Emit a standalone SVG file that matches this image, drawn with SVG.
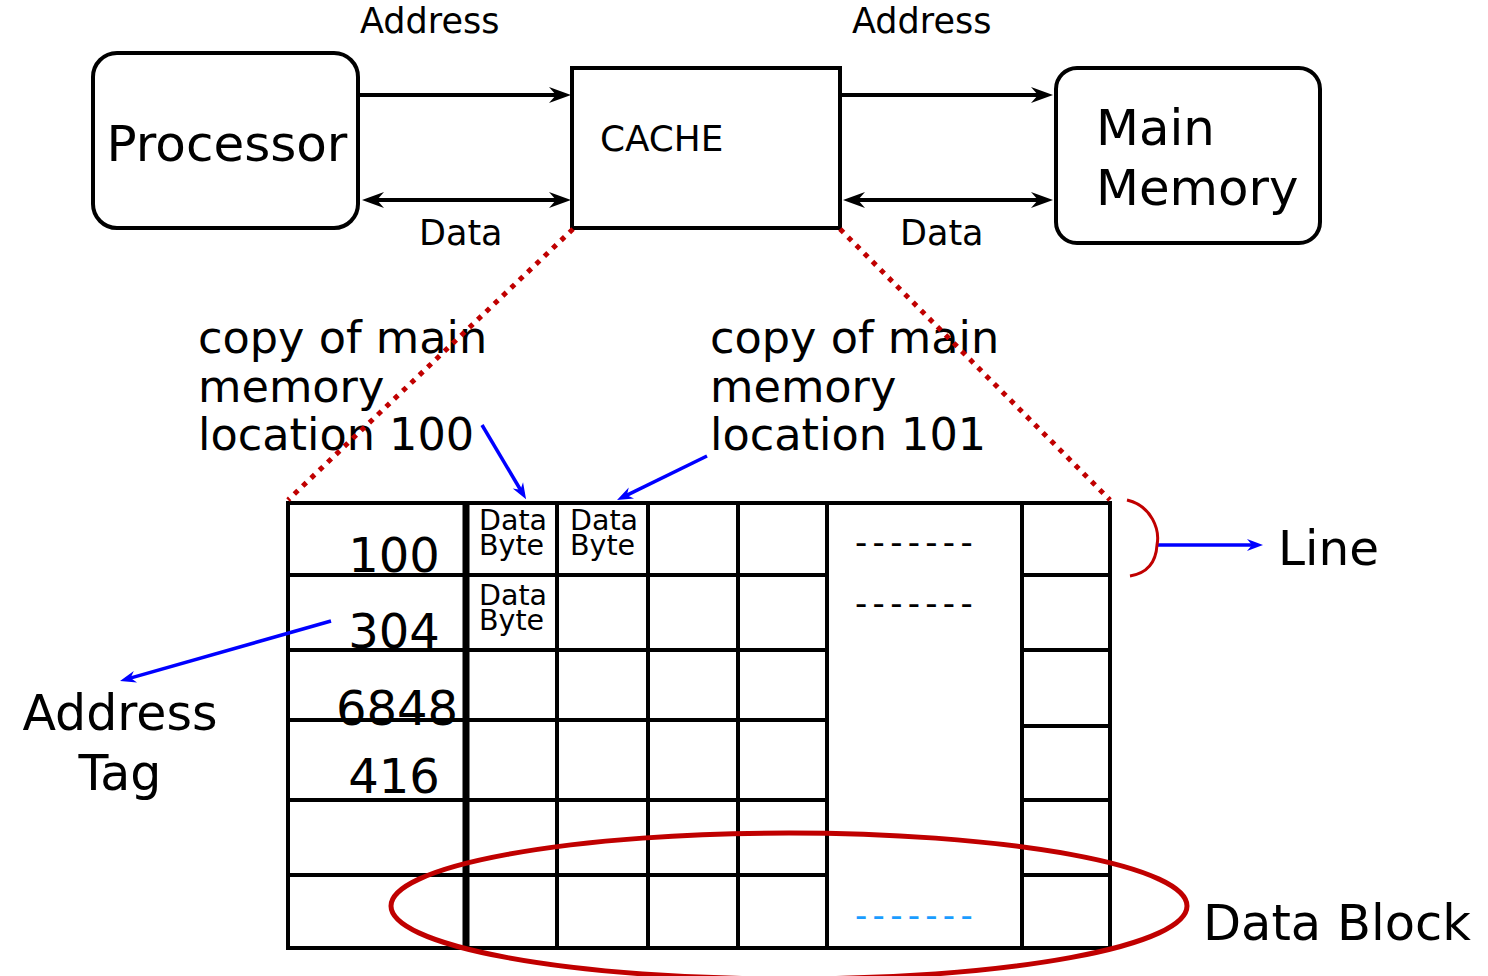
<svg xmlns="http://www.w3.org/2000/svg" width="1488" height="976" viewBox="0 0 1488 976">
<style>
text{font-family:"DejaVu Sans","Verdana","Liberation Sans",sans-serif;fill:#000}
.box{fill:#fff;stroke:#000;stroke-width:4}
.arr{stroke:#000;stroke-width:4;fill:none}
.barr{stroke:#0000ff;stroke-width:3.5;fill:none}
.grid{stroke:#000;stroke-width:4;fill:none}
.red{stroke:#c00000;fill:none}
.dots{stroke:#c00000;stroke-width:5;stroke-dasharray:5 6.5;fill:none}
.lbl35{font-size:35px}
.lbl44{font-size:44.6px}
.num{font-size:48px;text-anchor:middle}
.db{font-size:28.5px}
.dash{font-size:34px;letter-spacing:5.3px}
</style>
<defs>
<marker id="ah" viewBox="-24 -10 26 20" refX="-8" refY="0" markerWidth="26" markerHeight="20" markerUnits="userSpaceOnUse" orient="auto-start-reverse">
<path d="M0,0 L-22,-8 L-15,0 L-22,8 Z" fill="#000"/>
</marker>
<marker id="bh" viewBox="-18 -8 20 16" refX="-6" refY="0" markerWidth="20" markerHeight="16" markerUnits="userSpaceOnUse" orient="auto-start-reverse">
<path d="M0,0 L-16,-6 L-11,0 L-16,6 Z" fill="#0000ff"/>
</marker>
</defs>
<rect width="1488" height="976" fill="#fff"/>

<g id="processor">
<rect class="box" x="93" y="53" width="265" height="175" rx="24"/>
<text x="227" y="161" font-size="50" text-anchor="middle">Processor</text>
</g>

<g id="cache">
<rect class="box" x="572" y="68" width="268" height="160"/>
<text x="600" y="151" font-size="35.8">CACHE</text>
</g>

<g id="main-memory">
<rect class="box" x="1056" y="68" width="264" height="175" rx="21"/>
<text x="1096" y="145" font-size="49.8">Main</text>
<text x="1096" y="205" font-size="49.8">Memory</text>
</g>

<g id="cache-table">
<rect class="grid" x="288" y="503" width="822" height="445"/>
<path class="grid" d="M557,503V948M648,503V948M738,503V948M827,503V948M1022,503V948
M288,575H827M1022,575H1110
M288,650H827M1022,650H1110
M288,720H827M1022,726H1110
M288,800H827M1022,800H1110
M288,875H827M1022,875H1110"/>
<path d="M466,503V948" stroke="#000" stroke-width="7"/>
<text class="num" x="394" y="572">100</text>
<text class="num" x="394" y="648">304</text>
<text class="num" x="397" y="725">6848</text>
<text class="num" x="394" y="793">416</text>
<text class="db" x="479" y="530">Data<tspan x="479" dy="25">Byte</tspan></text>
<text class="db" x="570" y="530">Data<tspan x="570" dy="25">Byte</tspan></text>
<text class="db" x="479" y="605">Data<tspan x="479" dy="25">Byte</tspan></text>
<text class="dash" x="855" y="554">-------</text>
<text class="dash" x="855" y="615">-------</text>
<text class="dash" x="855" y="927" style="fill:#1a9cff">-------</text>
</g>

<g id="labels">
<text class="lbl35" x="360" y="33">Address</text>
<text class="lbl35" x="852" y="33">Address</text>
<text class="lbl35" x="419" y="245">Data</text>
<text class="lbl35" x="900" y="245">Data</text>
<text class="lbl44" x="198" y="353">copy of main</text>
<text class="lbl44" x="198" y="402">memory</text>
<text class="lbl44" x="198" y="450">location 100</text>
<text class="lbl44" x="710" y="353">copy of main</text>
<text class="lbl44" x="710" y="402">memory</text>
<text class="lbl44" x="710" y="450">location 101</text>
<text x="120" y="730" font-size="49" text-anchor="middle">Address</text>
<text x="120" y="790" font-size="49" text-anchor="middle">Tag</text>
<text x="1278" y="565" font-size="48.5">Line</text>
<text x="1203" y="940" font-size="49.5">Data Block</text>
</g>

<g id="connectors">
<path class="arr" d="M360,95H563" marker-end="url(#ah)"/>
<path class="arr" d="M370,200H563" marker-start="url(#ah)" marker-end="url(#ah)"/>
<path class="arr" d="M842,95H1045" marker-end="url(#ah)"/>
<path class="arr" d="M851,200H1045" marker-start="url(#ah)" marker-end="url(#ah)"/>
<path class="dots" d="M573,229L288,500"/>
<path class="dots" d="M840,229L1110,500"/>
<path class="barr" d="M482,425L523,494" marker-end="url(#bh)"/>
<path class="barr" d="M707,456L622.4,497.4" marker-end="url(#bh)"/>
<path class="barr" d="M331,621L125.8,679.4" marker-end="url(#bh)"/>
<path class="barr" d="M1157,545H1257" marker-end="url(#bh)"/>
<path class="red" stroke-width="3" d="M1127,500C1152,506 1160,530 1157,545C1156,562 1148,573 1130,576"/>
<ellipse class="red" stroke-width="5" cx="789" cy="906" rx="398" ry="73"/>
</g>
</svg>
